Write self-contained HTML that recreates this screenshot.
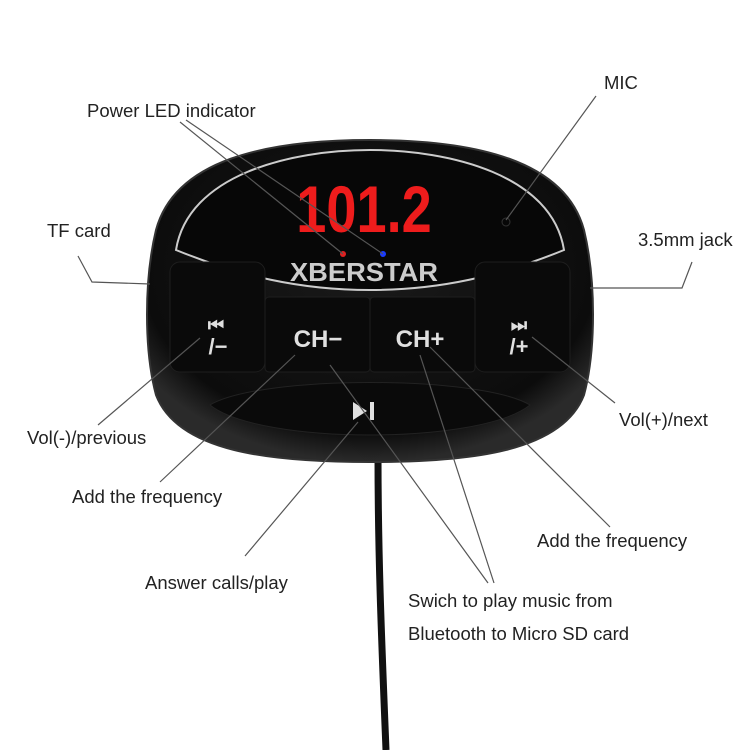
<!DOCTYPE html>
<html><head><style>
html,body{margin:0;padding:0;background:#fff;}
svg{display:block;}
text{font-family:"Liberation Sans",sans-serif;}
</style></head><body>
<svg width="750" height="750" viewBox="0 0 750 750">
<defs>
<radialGradient id="body" cx="50%" cy="40%" r="60%">
<stop offset="0" stop-color="#1a1a1a"/><stop offset="0.85" stop-color="#0c0c0c"/><stop offset="1" stop-color="#2a2a2a"/>
</radialGradient>
</defs>
<path d="M378 455 C378 560 382 650 386 750" stroke="#111" stroke-width="7" fill="none"/>
<path d="M370 140 C475 140 565 160 584 230 C596 280 596 350 584 395 C562 452 470 462 370 462 C270 462 178 452 156 395 C144 350 144 280 156 230 C175 160 265 140 370 140 Z" fill="url(#body)" stroke="#333" stroke-width="2"/>
<path d="M176 250 C188 175 290 150 370 150 C450 150 552 175 564 250 C500 276 440 290 370 290 C300 290 240 276 176 250 Z" fill="#070707" stroke="#ccc" stroke-width="2"/>
<g fill="#0a0a0a" stroke="#1e1e1e" stroke-width="1">
<rect x="170" y="262" width="95" height="110" rx="10"/>
<rect x="265" y="297" width="105" height="75" rx="4"/>
<rect x="370" y="297" width="105" height="75" rx="4"/>
<rect x="475" y="262" width="95" height="110" rx="10"/>
</g>
<path d="M210 405 C260 375 480 375 530 405 C480 445 260 445 210 405 Z" fill="#0a0a0a" stroke="#222"/>
<text x="364" y="232" text-anchor="middle" font-size="66" font-weight="bold" fill="#ee1c1c" transform="translate(364 0) scale(0.82 1) translate(-364 0)">101.2</text>
<circle cx="343" cy="254" r="3" fill="#e02020"/>
<circle cx="383" cy="254" r="3" fill="#1a3cff"/>
<circle cx="506" cy="222" r="4" fill="none" stroke="#333"/>
<text x="364" y="281" text-anchor="middle" font-size="26" font-weight="bold" fill="#ccc" transform="translate(364 0) scale(1.05 1) translate(-364 0)">XBERSTAR</text>
<g fill="#e0e0e0" font-weight="bold">
<text x="216" y="331" text-anchor="middle" font-size="18">⏮</text>
<text x="218" y="354" text-anchor="middle" font-size="22">/−</text>
<text x="318" y="347" text-anchor="middle" font-size="24">CH−</text>
<text x="420" y="347" text-anchor="middle" font-size="24">CH+</text>
<text x="519" y="331" text-anchor="middle" font-size="18">⏭</text>
<text x="519" y="354" text-anchor="middle" font-size="22">/+</text>
<path d="M353 402 L367 411 L353 420 Z"/>
<rect x="370" y="402" width="4" height="18"/>
</g>
<g stroke="#555" stroke-width="1.2" fill="none">
<path d="M180 122 L343 254"/>
<path d="M186 120 L383 254"/>
<path d="M596 96 L506 220"/>
<path d="M78 256 L92 282 L150 284"/>
<path d="M692 262 L682 288 L590 288"/>
<path d="M98 425 L200 338"/>
<path d="M160 482 L295 355"/>
<path d="M245 556 L358 422"/>
<path d="M488 583 L330 365"/>
<path d="M494 583 L420 355"/>
<path d="M610 527 L430 347"/>
<path d="M615 403 L532 337"/>
</g>
<g font-size="18.5" fill="#222">
<text x="87" y="117">Power LED indicator</text>
<text x="604" y="89">MIC</text>
<text x="47" y="237">TF card</text>
<text x="638" y="246">3.5mm jack</text>
<text x="27" y="444">Vol(-)/previous</text>
<text x="72" y="503">Add the frequency</text>
<text x="619" y="426">Vol(+)/next</text>
<text x="537" y="547">Add the frequency</text>
<text x="145" y="589">Answer calls/play</text>
<text x="408" y="607">Swich to play music from</text>
<text x="408" y="640">Bluetooth to Micro SD card</text>
</g>
</svg>
</body></html>
